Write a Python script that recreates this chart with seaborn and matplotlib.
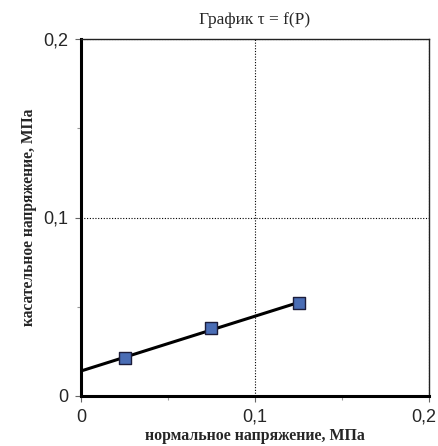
import numpy as np
import pandas as pd
import matplotlib
matplotlib.use('Agg')
import matplotlib.pyplot as plt
from matplotlib.ticker import MultipleLocator, FuncFormatter
from matplotlib.transforms import ScaledTranslation
import seaborn as sns

# --- данные ---
normal_stress = [0.025, 0.075, 0.125]   # P, МПа
shear_stress = [0.0212, 0.0380, 0.0519]  # tau, МПа

title = 'График τ = f(P)'
x_label = 'нормальное напряжение, МПа'
y_label = 'касательное напряжение, МПа'

df = pd.DataFrame({'P': normal_stress, 'tau': shear_stress})

sns.set_theme(style='white')
plt.rcParams['font.family'] = ['Liberation Sans', 'DejaVu Sans']
serif = ['Liberation Serif', 'DejaVu Serif']

fig = plt.figure(figsize=(4.38, 4.46), dpi=100)
ax = fig.add_axes([81 / 438, 1 - 396 / 446, 348 / 438, 357 / 446])

# линия тренда (линейная аппроксимация)
k, b = np.polyfit(df['P'], df['tau'], 1)
xs = np.array([0, df['P'].max()])
ax.plot(xs, k * xs + b, color='black', lw=2.2, zorder=3)

sns.scatterplot(data=df, x='P', y='tau', ax=ax, marker='s', s=70,
                color='#4a6db5', edgecolor='#1c1c3a', linewidth=1.0, zorder=4)

ax.set_xlim(0, 0.2)
ax.set_ylim(0, 0.2)
ax.xaxis.set_major_locator(MultipleLocator(0.1))
ax.yaxis.set_major_locator(MultipleLocator(0.1))
ax.xaxis.set_minor_locator(MultipleLocator(0.05))
ax.yaxis.set_minor_locator(MultipleLocator(0.05))
fmt = FuncFormatter(lambda v, p: '0' if abs(v) < 1e-9 else f'{v:.1f}'.replace('.', ','))
ax.xaxis.set_major_formatter(fmt)
ax.yaxis.set_major_formatter(fmt)

ax.grid(True, which='major', color='black', linestyle=(0, (1, 1.5)), lw=0.8)
ax.tick_params(which='major', direction='out', length=4, width=0.8, color='#666666',
               labelsize=13, bottom=True, left=True, pad=5)
ax.tick_params(which='minor', direction='out', length=3, width=0.8, color='#999999',
               bottom=True, left=True)

for side in ['left', 'bottom']:
    ax.spines[side].set_linewidth(2.2)
    ax.spines[side].set_color('black')
for side in ['top', 'right']:
    ax.spines[side].set_linewidth(1.0)
    ax.spines[side].set_color('#222222')
    ax.spines[side].set_visible(True)

ax.set_title(title, fontsize=12.5, family=serif, pad=11)
ax.set_xlabel(x_label, fontsize=11.4, family=serif, fontweight='bold', labelpad=2)
ax.set_ylabel(y_label, fontsize=11.2, family=serif, fontweight='bold', labelpad=5)

# последняя подпись по X чуть левее, чтобы не обрезалась
fig.canvas.draw()
for t in ax.xaxis.get_major_ticks():
    if abs(t.get_loc() - 0.2) < 1e-9:
        t.label1.set_transform(t.label1.get_transform()
                               + ScaledTranslation(-5 / 100, 0, fig.dpi_scale_trans))

fig.savefig('out.png', dpi=100, facecolor='white')
